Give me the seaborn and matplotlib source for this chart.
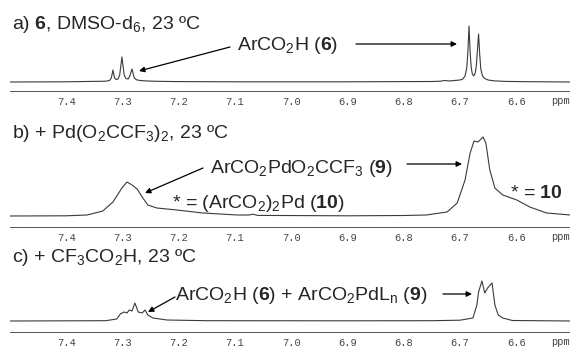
import matplotlib
matplotlib.use("Agg")
import matplotlib.pyplot as plt
from matplotlib.ticker import MultipleLocator, FuncFormatter
import numpy as np
import pandas as pd
import seaborn as sns

# spectrum a) 6 in DMSO-d6 (intensity, arbitrary units)
ppm_a = [7.50, 7.40, 7.33, 7.323, 7.320, 7.318, 7.317, 7.316, 7.314, 7.311, 7.308, 7.305,
         7.303, 7.301, 7.299, 7.297, 7.294, 7.290, 7.287, 7.285, 7.283, 7.281, 7.279,
         7.275, 7.27, 7.26, 7.24, 7.20, 7.10, 6.90, 6.75, 6.735, 6.727, 6.72, 6.70, 6.695,
         6.691, 6.688, 6.686, 6.684, 6.682, 6.680, 6.678, 6.6755, 6.673, 6.671, 6.669,
         6.667, 6.665, 6.663, 6.660, 6.656, 6.650, 6.64, 6.62, 6.58, 6.50]
int_a = [0.0, 0.2, 0.8, 1.5, 4, 9, 12, 9, 4, 2.5, 3, 7,
         16, 25, 16, 7, 3.5, 3, 6, 10, 13, 8, 4,
         2.2, 1.6, 1.1, 0.7, 0.4, 0.2, 0.2, 0.5, 0.8, 1.5, 1.0, 2, 3,
         6, 14, 30, 56, 30, 14, 8, 6, 9, 16, 32,
         48, 28, 13, 6, 3.5, 2, 1.2, 0.6, 0.3, 0.0]

# spectrum b) + Pd(O2CCF3)2
ppm_b = [7.50, 7.40, 7.363, 7.335, 7.317, 7.301, 7.292, 7.283, 7.274, 7.265, 7.255,
         7.239, 7.203, 7.157, 7.096, 7.075, 7.068, 7.06, 6.90, 6.80, 6.76, 6.723, 6.705,
         6.691, 6.682, 6.675, 6.668, 6.659, 6.654, 6.647, 6.638, 6.624, 6.599, 6.576,
         6.546, 6.504]
int_b = [0.0, 0.2, 1, 5, 14, 28, 34, 31, 27, 19, 11,
         8, 6, 3, 1, 1, 1.8, 0.6, 0.2, 0.5, 1, 4, 13,
         36, 63, 75, 74, 79, 73, 46, 28, 21, 16, 9,
         3, 1]

# spectrum c) + CF3CO2H
ppm_c = [7.50, 7.33, 7.31, 7.304, 7.297, 7.292, 7.288, 7.283, 7.278, 7.272, 7.265,
         7.26, 7.255, 7.246, 7.221, 7.15, 6.90, 6.75, 6.70, 6.677, 6.670, 6.667, 6.661,
         6.656, 6.651, 6.643, 6.638, 6.632, 6.624, 6.607, 6.50]
int_c = [0.0, 0.3, 2, 7, 9, 8, 11, 10, 18, 9, 8,
         11, 6, 3, 1, 0.3, 0.2, 0.3, 0.8, 3, 16, 29, 40,
         28, 33, 38, 16, 6, 3, 0.5, 0.0]

W, H = 570, 347


def px(x, y):
    return x / W, 1 - y / H


def panel(fig, ppm, inten, axis_y, base_y, top_y):
    ax = fig.add_axes([10 / W, 1 - axis_y / H, 560 / W, (axis_y - top_y) / H])
    df = pd.DataFrame({"ppm": ppm, "intensity": inten})
    sns.lineplot(data=df, x="ppm", y="intensity", ax=ax, estimator=None,
                 color="#3a3a3a", lw=0.8)
    ax.set_xlim(7.5, 7.5 - 560 / 562.5)
    ax.set_ylim(-(axis_y - base_y), base_y - top_y)
    ax.set_xlabel("")
    ax.set_ylabel("")
    ax.set_yticks([])
    for s in ["top", "left", "right"]:
        ax.spines[s].set_visible(False)
    ax.spines["bottom"].set_color("#555555")
    ax.spines["bottom"].set_linewidth(0.7)
    ax.xaxis.set_major_locator(MultipleLocator(0.1))
    ax.xaxis.set_minor_locator(MultipleLocator(0.01))
    ax.xaxis.set_major_formatter(FuncFormatter(lambda v, p: "" if v > 7.45 else f"{v:.1f}"))
    ax.tick_params(axis="x", which="major", direction="out", length=3, width=0.6,
                   color="#555555", labelsize=7.5, pad=1, labelcolor="#444444",
                   labelfontfamily="Liberation Mono")
    ax.tick_params(axis="x", which="minor", direction="out", length=1.5, width=0.5,
                   color="#777777")
    ax.patch.set_alpha(0)
    fig.text(*px(551, axis_y + 10), "ppm", fontsize=7.5, family="Liberation Mono",
             color="#444444", va="center", ha="left")
    return ax


def arrow(fig, x0, y0, x1, y1):
    fig.add_artist(matplotlib.patches.FancyArrowPatch(
        px(x0, y0), px(x1, y1), transform=fig.transFigure, arrowstyle="-|>",
        mutation_scale=8, lw=0.9, color="black", shrinkA=0, shrinkB=0))


sns.set_theme(style="white")
plt.rcParams["font.family"] = ["Liberation Sans", "DejaVu Sans"]
plt.rcParams["mathtext.fontset"] = "custom"
plt.rcParams["mathtext.rm"] = "Liberation Sans"
plt.rcParams["mathtext.it"] = "Liberation Sans:italic"
plt.rcParams["mathtext.bf"] = "Liberation Sans:bold"

fig = plt.figure(figsize=(W / 100, H / 100), dpi=100)
fig.patch.set_facecolor("white")

panel(fig, ppm_a, int_a, 91, 82, 20)
panel(fig, ppm_b, int_b, 227, 216, 130)
panel(fig, ppm_c, int_c, 332, 321, 270)

fs = 14
fig.text(*px(12, 29), r"a) $\mathbf{6}$, DMSO-d$_6$, 23 ºC", fontsize=fs, va="baseline")
fig.text(*px(12, 138), r"b) + Pd(O$_2$CCF$_3$)$_2$, 23 ºC", fontsize=fs, va="baseline")
fig.text(*px(12, 262), r"c) + CF$_3$CO$_2$H, 23 ºC", fontsize=fs, va="baseline")

fig.text(*px(237, 50), r"ArCO$_2$H ($\mathbf{6}$)", fontsize=fs, va="baseline")
arrow(fig, 230, 47, 139, 71)
arrow(fig, 356, 44, 457, 44)

fig.text(*px(210, 173), r"ArCO$_2$PdO$_2$CCF$_3$ ($\mathbf{9}$)", fontsize=fs, va="baseline")
arrow(fig, 203, 168, 145, 193)
arrow(fig, 407, 164, 462, 164)
fig.text(*px(172, 208), r"* = (ArCO$_2$)$_2$Pd ($\mathbf{10}$)", fontsize=fs, va="baseline")
fig.text(*px(510, 198), r"* = $\mathbf{10}$", fontsize=fs, va="baseline")

fig.text(*px(175, 300), r"ArCO$_2$H ($\mathbf{6}$) + ArCO$_2$PdL$_\mathrm{n}$ ($\mathbf{9}$)",
         fontsize=fs, va="baseline")
arrow(fig, 175, 297, 148, 312)
arrow(fig, 443, 294, 472, 294)

fig.savefig("out.png", dpi=100)
